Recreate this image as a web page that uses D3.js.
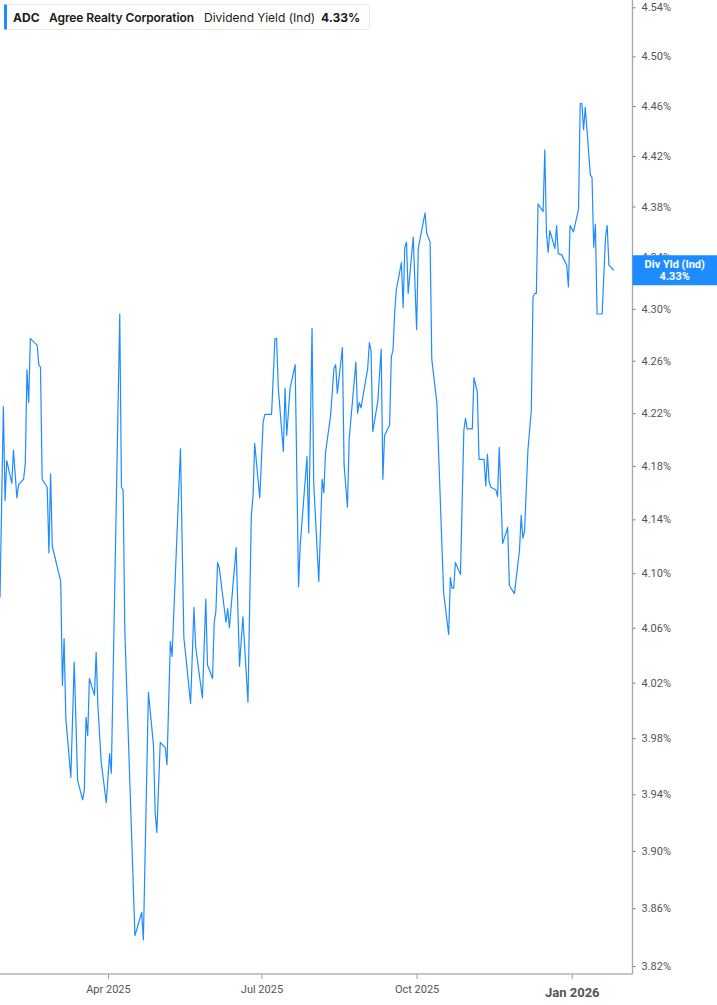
<!DOCTYPE html>
<html>
<head>
<meta charset="utf-8">
<script src="https://cdn.jsdelivr.net/npm/d3@7"></script>
<style>
  html, body { margin: 0; padding: 0; background: #fff; }
  svg { display: block; }
</style>
</head>
<body>
<div id="chart"></div>
<script>
// dividend yield (%), one entry per vertex of the line
var dates = [
  "2025-01-27","2025-01-29","2025-01-30","2025-01-31","2025-02-03","2025-02-04","2025-02-06","2025-02-07",
  "2025-02-10","2025-02-11","2025-02-12","2025-02-13","2025-02-14","2025-02-18","2025-02-19","2025-02-20",
  "2025-02-21","2025-02-24","2025-02-25","2025-02-26","2025-02-27","2025-03-04","2025-03-05","2025-03-06",
  "2025-03-07","2025-03-10","2025-03-12","2025-03-14","2025-03-17","2025-03-18","2025-03-19","2025-03-20",
  "2025-03-21","2025-03-24","2025-03-25","2025-03-26","2025-03-28","2025-03-31","2025-04-02","2025-04-03",
  "2025-04-08","2025-04-09","2025-04-10","2025-04-11","2025-04-17","2025-04-21","2025-04-22","2025-04-25",
  "2025-04-28","2025-04-29","2025-04-30","2025-05-02","2025-05-05","2025-05-06","2025-05-08","2025-05-09",
  "2025-05-14","2025-05-16","2025-05-20","2025-05-22","2025-05-23","2025-05-27","2025-05-29","2025-05-30",
  "2025-06-02","2025-06-03","2025-06-04","2025-06-05","2025-06-06","2025-06-10","2025-06-11","2025-06-12",
  "2025-06-16","2025-06-18","2025-06-20","2025-06-23","2025-06-25","2025-06-26","2025-06-27","2025-06-30",
  "2025-07-02","2025-07-03","2025-07-07","2025-07-09","2025-07-10","2025-07-11","2025-07-14","2025-07-15",
  "2025-07-16","2025-07-18","2025-07-21","2025-07-23","2025-07-24","2025-07-28","2025-07-29","2025-07-31",
  "2025-08-01","2025-08-04","2025-08-06","2025-08-07","2025-08-08","2025-08-11","2025-08-13","2025-08-14",
  "2025-08-15","2025-08-18","2025-08-19","2025-08-21","2025-08-22","2025-08-26","2025-08-27","2025-08-28",
  "2025-08-29","2025-09-02","2025-09-03","2025-09-04","2025-09-05","2025-09-08","2025-09-10","2025-09-11",
  "2025-09-12","2025-09-15","2025-09-16","2025-09-17","2025-09-18","2025-09-19","2025-09-22","2025-09-23",
  "2025-09-24","2025-09-25","2025-09-26","2025-09-29","2025-10-01","2025-10-02","2025-10-06","2025-10-07",
  "2025-10-09","2025-10-10","2025-10-13","2025-10-17","2025-10-20","2025-10-21","2025-10-22","2025-10-23",
  "2025-10-24","2025-10-27","2025-10-29","2025-10-30","2025-10-31","2025-11-03","2025-11-04","2025-11-06",
  "2025-11-07","2025-11-10","2025-11-11","2025-11-12","2025-11-13","2025-11-14","2025-11-17","2025-11-18",
  "2025-11-19","2025-11-21","2025-11-24","2025-11-25","2025-11-28","2025-12-01","2025-12-02","2025-12-03",
  "2025-12-04","2025-12-06","2025-12-08","2025-12-09","2025-12-10","2025-12-11","2025-12-12","2025-12-15",
  "2025-12-16","2025-12-17","2025-12-18","2025-12-19","2025-12-22","2025-12-23","2025-12-24","2025-12-26",
  "2025-12-29","2025-12-30","2025-12-31","2026-01-02","2026-01-05","2026-01-06","2026-01-07","2026-01-08",
  "2026-01-09","2026-01-12","2026-01-13","2026-01-14","2026-01-15","2026-01-16","2026-01-19","2026-01-21",
  "2026-01-22","2026-01-23","2026-01-26"
];

var yields = [
  4.082,4.225,4.154,4.184,4.167,4.192,4.156,4.166,
  4.170,4.182,4.253,4.228,4.277,4.272,4.257,4.255,
  4.170,4.164,4.115,4.174,4.120,4.094,4.018,4.052,
  3.995,3.952,4.035,3.950,3.936,3.943,3.995,3.982,
  4.023,4.011,4.042,4.004,3.963,3.934,3.969,3.955,
  4.296,4.164,4.162,4.058,3.841,3.857,3.838,4.013,
  3.975,3.927,3.913,3.977,3.973,3.961,4.050,4.039,
  4.193,4.053,4.005,4.075,4.046,4.009,4.081,4.033,
  4.023,4.064,4.072,4.108,4.104,4.064,4.074,4.060,
  4.119,4.032,4.068,4.006,4.143,4.157,4.197,4.156,
  4.213,4.219,4.219,4.277,4.277,4.239,4.191,4.239,
  4.203,4.239,4.257,4.090,4.121,4.187,4.130,4.285,
  4.167,4.094,4.170,4.160,4.190,4.218,4.254,4.257,
  4.235,4.270,4.181,4.149,4.200,4.259,4.220,4.228,
  4.224,4.254,4.274,4.267,4.206,4.229,4.269,4.170,
  4.203,4.211,4.263,4.268,4.297,4.315,4.336,4.301,
  4.348,4.352,4.312,4.356,4.284,4.347,4.375,4.359,
  4.352,4.261,4.228,4.086,4.055,4.097,4.089,4.089,
  4.108,4.099,4.207,4.216,4.208,4.208,4.247,4.236,
  4.185,4.185,4.165,4.189,4.168,4.164,4.162,4.157,
  4.194,4.122,4.134,4.091,4.085,4.117,4.143,4.126,
  4.131,4.192,4.222,4.309,4.312,4.312,4.382,4.376,
  4.425,4.359,4.344,4.361,4.347,4.365,4.343,4.342,
  4.334,4.317,4.365,4.360,4.378,4.462,4.462,4.441,
  4.459,4.405,4.403,4.348,4.366,4.296,4.296,4.356,
  4.365,4.334,4.330
];

var yTicks = [3.82, 3.86, 3.90, 3.94, 3.98, 4.02, 4.06, 4.10, 4.14, 4.18,
  4.22, 4.26, 4.30, 4.34, 4.38, 4.42, 4.46, 4.50, 4.54];
var xTicks = ["2025-04-01", "2025-07-01", "2025-10-01", "2026-01-01"];
var xTickLabels = ["Apr 2025", "Jul 2025", "Oct 2025", "Jan 2026"];

var ticker = "ADC";
var company = "Agree Realty Corporation";
var metric = "Dividend Yield (Ind)";
var lastLabel = "Div Yld (Ind)";
var lastValue = yields[yields.length - 1];

var svgWidth = 717;
var svgHeight = 1005;
var plotRight = 632.5;
var plotBottom = 974;
var blue = "#1e8cff";

var parseDate = d3.timeParse("%Y-%m-%d");
var data = dates.map(function(d, i) {
  return { date: parseDate(d), value: yields[i] };
});

var svg = d3.select("#chart")
  .append("svg")
  .attr("width", svgWidth)
  .attr("height", svgHeight);

var x = d3.scaleTime()
  .domain([parseDate("2025-01-27"), parseDate("2026-02-06")])
  .range([0, plotRight]);

var y = d3.scaleLog()
  .domain([3.82, 4.54])
  .range([966, 7.3]);

svg.append("defs").append("clipPath")
  .attr("id", "plot-clip")
  .append("rect")
  .attr("x", 0).attr("y", 0)
  .attr("width", plotRight).attr("height", plotBottom);

// the yield line
var line = d3.line()
  .x(function(d) { return x(d.date); })
  .y(function(d) { return y(d.value); });

svg.append("path")
  .datum(data)
  .attr("clip-path", "url(#plot-clip)")
  .attr("fill", "none")
  .attr("stroke", blue)
  .attr("stroke-width", 1.2)
  .attr("stroke-linejoin", "round")
  .attr("d", line);

// right axis
var yAxis = svg.append("g")
  .attr("transform", "translate(" + plotRight + ",0)")
  .call(d3.axisRight(y)
    .tickValues(yTicks)
    .tickSize(3)
    .tickPadding(6)
    .tickFormat(function(d) { return d.toFixed(2) + "%"; }));

yAxis.select(".domain").remove();
yAxis.selectAll(".tick line").attr("stroke", "#777");
yAxis.selectAll(".tick text")
  .attr("fill", "#555")
  .attr("font-family", "Roboto, 'Liberation Sans', sans-serif")
  .attr("font-size", 11);

svg.append("line")
  .attr("x1", plotRight).attr("x2", plotRight)
  .attr("y1", 0).attr("y2", plotBottom)
  .attr("stroke", "#a6a6a6")
  .attr("stroke-width", 1.3);

// bottom axis
var xAxis = svg.append("g")
  .attr("transform", "translate(0," + plotBottom + ")")
  .call(d3.axisBottom(x)
    .tickValues(xTicks.map(parseDate))
    .tickSize(5)
    .tickPadding(6)
    .tickFormat(function(d, i) { return xTickLabels[i]; }));

xAxis.select(".domain").remove();
xAxis.selectAll(".tick line").attr("stroke", "#999");
xAxis.selectAll(".tick text")
  .attr("fill", "#555")
  .attr("font-family", "Roboto, 'Liberation Sans', sans-serif")
  .attr("font-size", 11);

xAxis.selectAll(".tick").filter(function(d, i) { return i === xTicks.length - 1; })
  .select("text")
  .attr("font-size", 13)
  .attr("font-weight", "bold")
  .attr("dy", "0.95em");

svg.append("line")
  .attr("x1", 0).attr("x2", plotRight)
  .attr("y1", plotBottom).attr("y2", plotBottom)
  .attr("stroke", "#b3b3b3")
  .attr("stroke-width", 1.5);

// last value tag on the axis
var tag = svg.append("g")
  .attr("transform", "translate(" + plotRight + "," + y(lastValue) + ")");

tag.append("rect")
  .attr("x", 0).attr("y", -15)
  .attr("width", svgWidth - plotRight).attr("height", 30)
  .attr("fill", blue);

tag.append("text")
  .attr("x", (svgWidth - plotRight) / 2).attr("y", -2)
  .attr("text-anchor", "middle")
  .attr("fill", "#fff")
  .attr("font-family", "Roboto, 'Liberation Sans', sans-serif")
  .attr("font-size", 11)
  .attr("font-weight", "bold")
  .text(lastLabel);

tag.append("text")
  .attr("x", (svgWidth - plotRight) / 2).attr("y", 10)
  .attr("text-anchor", "middle")
  .attr("fill", "#fff")
  .attr("font-family", "Roboto, 'Liberation Sans', sans-serif")
  .attr("font-size", 11)
  .attr("font-weight", "bold")
  .text(lastValue.toFixed(2) + "%");

// legend box
var legend = svg.append("g");

legend.append("rect")
  .attr("x", 4.5).attr("y", 4.5)
  .attr("width", 365).attr("height", 25)
  .attr("rx", 3)
  .attr("fill", "#fff")
  .attr("stroke", "#e6e6e6");

legend.append("rect")
  .attr("x", 4).attr("y", 4.5)
  .attr("width", 3).attr("height", 25)
  .attr("fill", blue);

var legendFont = "Inter, 'Noto Sans', sans-serif";
var legendParts = [
  { text: ticker, x: 13, weight: 700 },
  { text: company, x: 49, weight: 600 },
  { text: metric, x: 204, weight: 400 },
  { text: lastValue.toFixed(2) + "%", x: 321, weight: 700 }
];

legend.selectAll("text.part")
  .data(legendParts)
  .enter()
  .append("text")
  .attr("class", "part")
  .attr("x", function(d) { return d.x; })
  .attr("y", 21.5)
  .attr("fill", "#1a1a1a")
  .attr("font-family", legendFont)
  .attr("font-size", 12)
  .attr("font-weight", function(d) { return d.weight; })
  .attr("textLength", function(d, i) { return i === 1 ? 145 : null; })
  .text(function(d) { return d.text; });
</script>
</body>
</html>
